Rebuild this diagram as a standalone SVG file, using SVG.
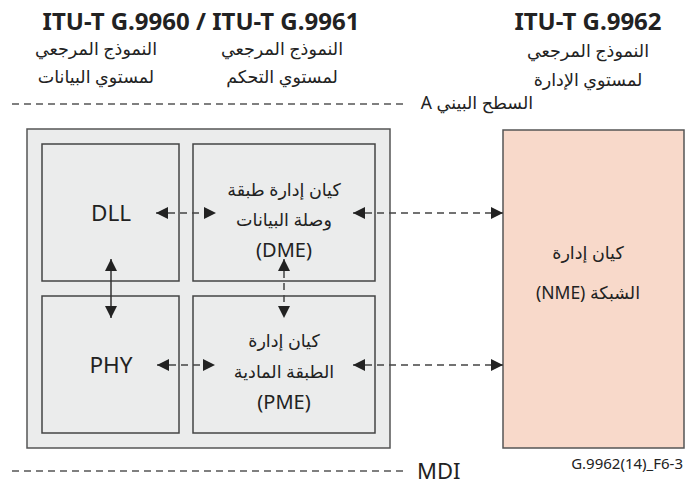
<svg xmlns="http://www.w3.org/2000/svg" width="686" height="487" viewBox="0 0 686 487">
  <style>
    text { font-family: "Noto Sans", "DejaVu Sans", sans-serif; fill: #222; }
    .title { font-size: 24px; font-weight: bold; text-anchor: middle; }
    .ar { font-size: 17.5px; text-anchor: middle; direction: rtl; unicode-bidi: embed; }
    .lbl { font-size: 22.5px; text-anchor: middle; }
    .paren { font-size: 20px; text-anchor: middle; }
    .box { fill: #ebecec; stroke: #444; stroke-width: 1.5; }
    .outer { fill: #ebecec; stroke: #555; stroke-width: 1.5; }
    .nme { fill: #f8d9ca; stroke: #555; stroke-width: 1.5; }
    .ref { fill: none; stroke: #555; stroke-width: 1.5; stroke-dasharray: 7 5; }
    .dash { fill: none; stroke: #444; stroke-width: 1.5; stroke-dasharray: 7 5; }
    .solid { fill: none; stroke: #333; stroke-width: 1.5; }
  </style>
  <defs>
    <marker id="head" viewBox="0 0 12 12" refX="12" refY="6" markerUnits="userSpaceOnUse" markerWidth="12" markerHeight="12" orient="auto-start-reverse">
      <path d="M0,0 L12,6 L0,12 z" fill="#222"/>
    </marker>
  </defs>

  <!-- column headings -->
  <g id="headings">
    <text class="title" x="201" y="30">ITU-T G.9960 / ITU-T G.9961</text>
    <text class="title" x="588" y="30">ITU-T G.9962</text>
    <text class="ar" x="96" y="55">النموذج المرجعي</text>
    <text class="ar" x="96" y="83">لمستوي البيانات</text>
    <text class="ar" x="282" y="55">النموذج المرجعي</text>
    <text class="ar" x="282" y="83">لمستوي التحكم</text>
    <text class="ar" x="588" y="57">النموذج المرجعي</text>
    <text class="ar" x="588" y="86">لمستوي الإدارة</text>
  </g>

  <!-- reference points -->
  <g id="interface-a">
    <line class="ref" x1="12" y1="104" x2="405" y2="104"/>
    <text class="ar" x="477" y="109">السطح البيني A</text>
  </g>
  <g id="mdi">
    <line class="ref" x1="12" y1="471" x2="408" y2="471"/>
    <text x="417" y="479" style="font-size:22px">MDI</text>
  </g>

  <!-- transceiver enclosure -->
  <g id="enclosure">
    <rect class="outer" x="27" y="129" width="363" height="319"/>
  </g>

  <g id="dll">
    <rect class="box" x="42" y="144" width="137" height="137"/>
    <text class="lbl" x="111" y="221">DLL</text>
  </g>
  <g id="dme">
    <rect class="box" x="193" y="144" width="182" height="137"/>
    <text class="ar" x="284" y="196">كيان إدارة طبقة</text>
    <text class="ar" x="284" y="226">وصلة البيانات</text>
    <text class="paren" x="284" y="257">(DME)</text>
  </g>
  <g id="phy">
    <rect class="box" x="42" y="296" width="137" height="137"/>
    <text class="lbl" x="111" y="373">PHY</text>
  </g>
  <g id="pme">
    <rect class="box" x="193" y="296" width="182" height="137"/>
    <text class="ar" x="284" y="347">كيان إدارة</text>
    <text class="ar" x="284" y="378">الطبقة المادية</text>
    <text class="paren" x="284" y="409">(PME)</text>
  </g>
  <g id="nme">
    <rect class="nme" x="503" y="130" width="181" height="318"/>
    <text class="ar" x="588" y="259">كيان إدارة</text>
    <text class="ar" x="588" y="299">الشبكة (NME)</text>
  </g>
  <g id="figure-id">
    <text x="683" y="469" style="font-size:15px;text-anchor:end">G.9962(14)_F6-3</text>
  </g>

  <!-- connectors -->
  <g id="connectors">
    <line class="dash" x1="156" y1="213" x2="216" y2="213" marker-start="url(#head)" marker-end="url(#head)"/>
    <line class="dash" x1="353" y1="213" x2="503" y2="213" marker-start="url(#head)" marker-end="url(#head)"/>
    <line class="dash" x1="157" y1="365" x2="215" y2="365" marker-start="url(#head)" marker-end="url(#head)"/>
    <line class="dash" x1="353" y1="365" x2="503" y2="365" marker-start="url(#head)" marker-end="url(#head)"/>
    <line class="solid" x1="111" y1="259" x2="111" y2="318" marker-start="url(#head)" marker-end="url(#head)"/>
    <line class="dash" x1="284" y1="259" x2="284" y2="318" marker-start="url(#head)" marker-end="url(#head)"/>
  </g>
</svg>
